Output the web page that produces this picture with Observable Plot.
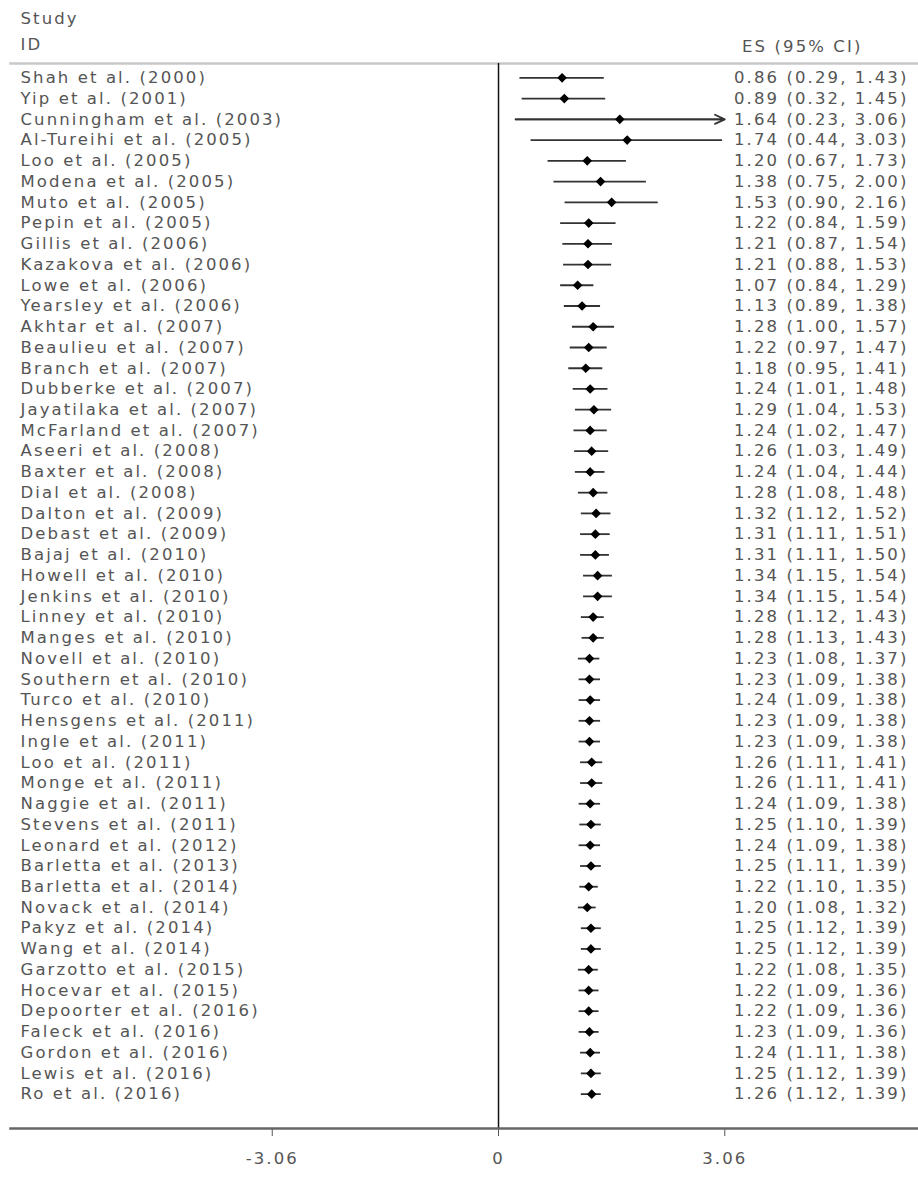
<!DOCTYPE html>
<html>
<head>
<meta charset="utf-8">
<script src="https://cdn.jsdelivr.net/npm/d3@7"></script>
<script src="https://cdn.jsdelivr.net/npm/@observablehq/plot@0.6"></script>
<style>
  body { margin: 0; background: #fff; }
  #chart svg { display: block; }
  #chart svg text { letter-spacing: 2.1px; }
</style>
</head>
<body>
<div id="chart"></div>
<script>
// etudes (meta-analyse cumulative)
const studies = [
  "Shah et al. (2000)", "Yip et al. (2001)", "Cunningham et al. (2003)", "Al-Tureihi et al. (2005)",
  "Loo et al. (2005)", "Modena et al. (2005)", "Muto et al. (2005)", "Pepin et al. (2005)",
  "Gillis et al. (2006)", "Kazakova et al. (2006)", "Lowe et al. (2006)", "Yearsley et al. (2006)",
  "Akhtar et al. (2007)", "Beaulieu et al. (2007)", "Branch et al. (2007)", "Dubberke et al. (2007)",
  "Jayatilaka et al. (2007)", "McFarland et al. (2007)", "Aseeri et al. (2008)", "Baxter et al. (2008)",
  "Dial et al. (2008)", "Dalton et al. (2009)", "Debast et al. (2009)", "Bajaj et al. (2010)",
  "Howell et al. (2010)", "Jenkins et al. (2010)", "Linney et al. (2010)", "Manges et al. (2010)",
  "Novell et al. (2010)", "Southern et al. (2010)", "Turco et al. (2010)", "Hensgens et al. (2011)",
  "Ingle et al. (2011)", "Loo et al. (2011)", "Monge et al. (2011)", "Naggie et al. (2011)",
  "Stevens et al. (2011)", "Leonard et al. (2012)", "Barletta et al. (2013)", "Barletta et al. (2014)",
  "Novack et al. (2014)", "Pakyz et al. (2014)", "Wang et al. (2014)", "Garzotto et al. (2015)",
  "Hocevar et al. (2015)", "Depoorter et al. (2016)", "Faleck et al. (2016)", "Gordon et al. (2016)",
  "Lewis et al. (2016)", "Ro et al. (2016)"
];
const es = [
  0.86, 0.89, 1.64, 1.74, 1.20, 1.38, 1.53, 1.22, 1.21, 1.21, 1.07, 1.13, 1.28, 1.22, 1.18, 1.24,
  1.29, 1.24, 1.26, 1.24, 1.28, 1.32, 1.31, 1.31, 1.34, 1.34, 1.28, 1.28, 1.23, 1.23, 1.24, 1.23,
  1.23, 1.26, 1.26, 1.24, 1.25, 1.24, 1.25, 1.22, 1.20, 1.25, 1.25, 1.22, 1.22, 1.22, 1.23, 1.24,
  1.25, 1.26
];
const lower = [
  0.29, 0.32, 0.23, 0.44, 0.67, 0.75, 0.90, 0.84, 0.87, 0.88, 0.84, 0.89, 1.00, 0.97, 0.95, 1.01,
  1.04, 1.02, 1.03, 1.04, 1.08, 1.12, 1.11, 1.11, 1.15, 1.15, 1.12, 1.13, 1.08, 1.09, 1.09, 1.09,
  1.09, 1.11, 1.11, 1.09, 1.10, 1.09, 1.11, 1.10, 1.08, 1.12, 1.12, 1.08, 1.09, 1.09, 1.09, 1.11,
  1.12, 1.12
];
const upper = [
  1.43, 1.45, 3.06, 3.03, 1.73, 2.00, 2.16, 1.59, 1.54, 1.53, 1.29, 1.38, 1.57, 1.47, 1.41, 1.48,
  1.53, 1.47, 1.49, 1.44, 1.48, 1.52, 1.51, 1.50, 1.54, 1.54, 1.43, 1.43, 1.37, 1.38, 1.38, 1.38,
  1.38, 1.41, 1.41, 1.38, 1.39, 1.38, 1.39, 1.35, 1.32, 1.39, 1.39, 1.35, 1.36, 1.36, 1.36, 1.38,
  1.39, 1.39
];
const xTicks = [-3.06, 0, 3.06];
const xMax = 3.06; // borne d'affichage, au-dela on dessine une fleche

const rows = studies.map((s, i) => ({
  study: s, es: es[i], lo: lower[i], hi: upper[i],
  label: `${es[i].toFixed(2)} (${lower[i].toFixed(2)}, ${upper[i].toFixed(2)})`
}));
const fmt = d => d === 0 ? "0" : d.toFixed(2);

const font = "'DejaVu Sans', sans-serif";
const grey = "#555";
const fs = 16.5;

const plot = Plot.plot({
  width: 918,
  height: 1186,
  marginLeft: 10,
  marginRight: 0,
  marginTop: 63,
  marginBottom: 58,
  style: { fontFamily: font, fontSize: fs + "px", color: grey },
  x: { domain: [-6.6, 5.68], ticks: xTicks, tickFormat: fmt },
  y: { type: "point", domain: studies, padding: 0.5, insetTop: 4, insetBottom: 24, axis: null },
  marks: [
    Plot.frame({ anchor: "top", stroke: "#c8c8c8", strokeWidth: 2.5 }),
    Plot.ruleX([0], { stroke: "#111", strokeWidth: 1.5 }),
    Plot.axisX({ ticks: xTicks, tickFormat: fmt, tickSize: 8, tickPadding: 16, fontSize: fs, stroke: "#555" }),
    Plot.frame({ anchor: "bottom", stroke: "#666", strokeWidth: 2.5 }),
    Plot.ruleY(rows, { y: "study", x1: "lo", x2: d => Math.min(d.hi, xMax), stroke: "#333", strokeWidth: 1.8 }),
    Plot.arrow(rows.filter(d => d.hi >= xMax), {
      x1: "lo", x2: xMax, y1: "study", y2: "study",
      stroke: "#333", strokeWidth: 1.8, headLength: 9, headAngle: 50
    }),
    Plot.dot(rows, { x: "es", y: "study", symbol: "diamond2", r: 3.4, fill: "#000", stroke: "#000" }),
    Plot.text(rows, { y: "study", text: "study", frameAnchor: "left", textAnchor: "start", dx: 10, fill: grey, fontSize: fs }),
    Plot.text(rows, { y: "study", text: "label", frameAnchor: "right", textAnchor: "end", dx: -10, fill: grey, fontSize: fs }),
    Plot.text(["Study"], { frameAnchor: "top-left", textAnchor: "start", dx: 10, dy: -51, fill: grey, fontSize: fs }),
    Plot.text(["ID"], { frameAnchor: "top-left", textAnchor: "start", dx: 10, dy: -25, fill: grey, fontSize: fs }),
    Plot.text(["ES (95% CI)"], { frameAnchor: "top-right", textAnchor: "end", dx: -56, dy: -23, fill: grey, fontSize: fs })
  ]
});
document.getElementById("chart").appendChild(plot);
</script>
</body>
</html>
